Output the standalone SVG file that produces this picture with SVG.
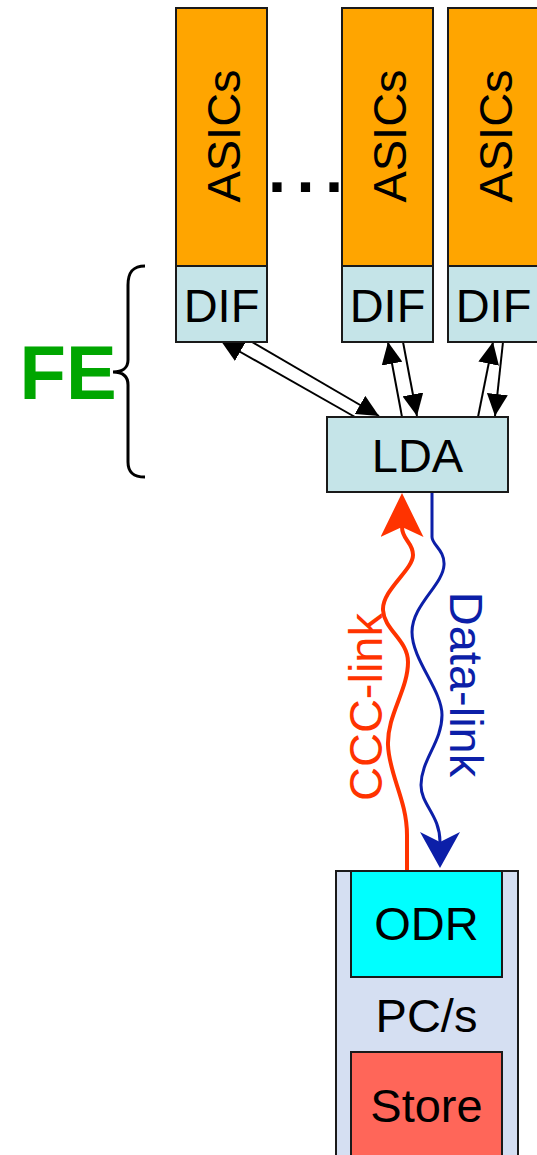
<svg xmlns="http://www.w3.org/2000/svg" width="537" height="1155" viewBox="0 0 537 1155">
<style>
text{font-family:"Liberation Sans",Arial,sans-serif;font-size:47px;fill:#000}
.asic{fill:#ffa500;stroke:#1a1a1a;stroke-width:2}
.blue{fill:#c5e4e8;stroke:#1a1a1a;stroke-width:2}
.conn{stroke:#000;stroke-width:2;fill:none;marker-end:url(#ah)}
</style>
<defs>
<marker id="ah" markerUnits="userSpaceOnUse" viewBox="0 0 22 21" refX="22" refY="10.5" markerWidth="22" markerHeight="21" orient="auto">
<path d="M0,0 L22,10.5 L0,21 z" fill="#000"/>
</marker>
<marker id="ahRed" markerUnits="userSpaceOnUse" viewBox="0 0 44 43" refX="10" refY="21.5" markerWidth="44" markerHeight="43" orient="auto">
<path d="M0,0 L44,21.5 L0,43 L10,21.5 z" fill="#ff3300"/>
</marker>
<marker id="ahBlue" markerUnits="userSpaceOnUse" viewBox="0 0 36 40" refX="10" refY="20" markerWidth="36" markerHeight="40" orient="auto">
<path d="M0,0 L36,20 L0,40 L10,20 z" fill="#0c1fa8"/>
</marker>
</defs>

<g id="connectors">
<line class="conn" x1="355" y1="417" x2="221" y2="341"/>
<line class="conn" x1="252" y1="342" x2="379" y2="416"/>
<line class="conn" x1="402" y1="417" x2="388" y2="342"/>
<line class="conn" x1="403" y1="342" x2="417" y2="416"/>
<line class="conn" x1="478" y1="417" x2="493" y2="342"/>
<line class="conn" x1="503" y1="342" x2="495" y2="416"/>
<path id="ccc-link" d="M407,872 L407,835 C407,800 389,775 388,745 C387,715 408,690 408,662 C408,640 384,630 383,610 C382,590 413,570 413,555 C413,542 402,540 402,527" fill="none" stroke="#ff3300" stroke-width="4" marker-end="url(#ahRed)"/>
<path id="data-link" d="M432,492 L432,537 C432,545 445,550 444,565 C443,585 412,605 412,632 C412,660 442,690 442,715 C442,742 421,760 421,785 C421,805 440,815 440,842" fill="none" stroke="#0c1fa8" stroke-width="3" marker-end="url(#ahBlue)"/>
<text transform="translate(382,707) rotate(-90)" text-anchor="middle" style="fill:#ff3300">CCC-link</text>
<text transform="translate(450,684.5) rotate(90)" text-anchor="middle" style="fill:#0c1fa8">Data-link</text>
</g>

<g id="asics1"><rect class="asic" x="176" y="8" width="91" height="258"/><text transform="translate(239.5,136) rotate(-90)" text-anchor="middle">ASICs</text></g>
<g id="asics2"><rect class="asic" x="342" y="8" width="91" height="258"/><text transform="translate(405.5,136) rotate(-90)" text-anchor="middle">ASICs</text></g>
<g id="asics3"><rect class="asic" x="448" y="8" width="91" height="258"/><text transform="translate(511.5,136) rotate(-90)" text-anchor="middle">ASICs</text></g>
<g id="dots"><text x="268" y="192.3" style="font-weight:bold;font-size:65px;letter-spacing:10.4px">...</text></g>

<g id="dif1"><rect class="blue" x="176" y="266" width="91" height="76"/><text x="221.5" y="321.5" text-anchor="middle">DIF</text></g>
<g id="dif2"><rect class="blue" x="342" y="266" width="91" height="76"/><text x="387.5" y="321.5" text-anchor="middle">DIF</text></g>
<g id="dif3"><rect class="blue" x="448" y="266" width="91" height="76"/><text x="493.5" y="321.5" text-anchor="middle">DIF</text></g>

<g id="fe">
<path d="M145,266 C133,266 128,272 128,285 L128,360 C128,368 122,372 113,372 C122,372 128,376 128,385 L128,462 C128,472 133,477 145,477" fill="none" stroke="#000" stroke-width="3"/>
<text x="19.5" y="399" style="font-weight:bold;font-size:76px;fill:#00a600">FE</text>
</g>

<g id="lda"><rect class="blue" x="327" y="417" width="181" height="75"/><text x="417.5" y="471.7" text-anchor="middle">LDA</text></g>

<g id="pcs">
<rect x="336" y="871" width="182" height="300" fill="#d5dff2" stroke="#1a1a1a" stroke-width="2"/>
<text x="426.5" y="1031.7" text-anchor="middle">PC/s</text>
<g id="odr"><rect x="351" y="871" width="151" height="106" fill="#00ffff" stroke="#1a1a1a" stroke-width="2"/><text x="426.5" y="940" text-anchor="middle">ODR</text></g>
<g id="store"><rect x="351" y="1052" width="151" height="120" fill="#ff6659" stroke="#1a1a1a" stroke-width="2"/><text x="426.5" y="1121.7" text-anchor="middle">Store</text></g>
</g>
</svg>
